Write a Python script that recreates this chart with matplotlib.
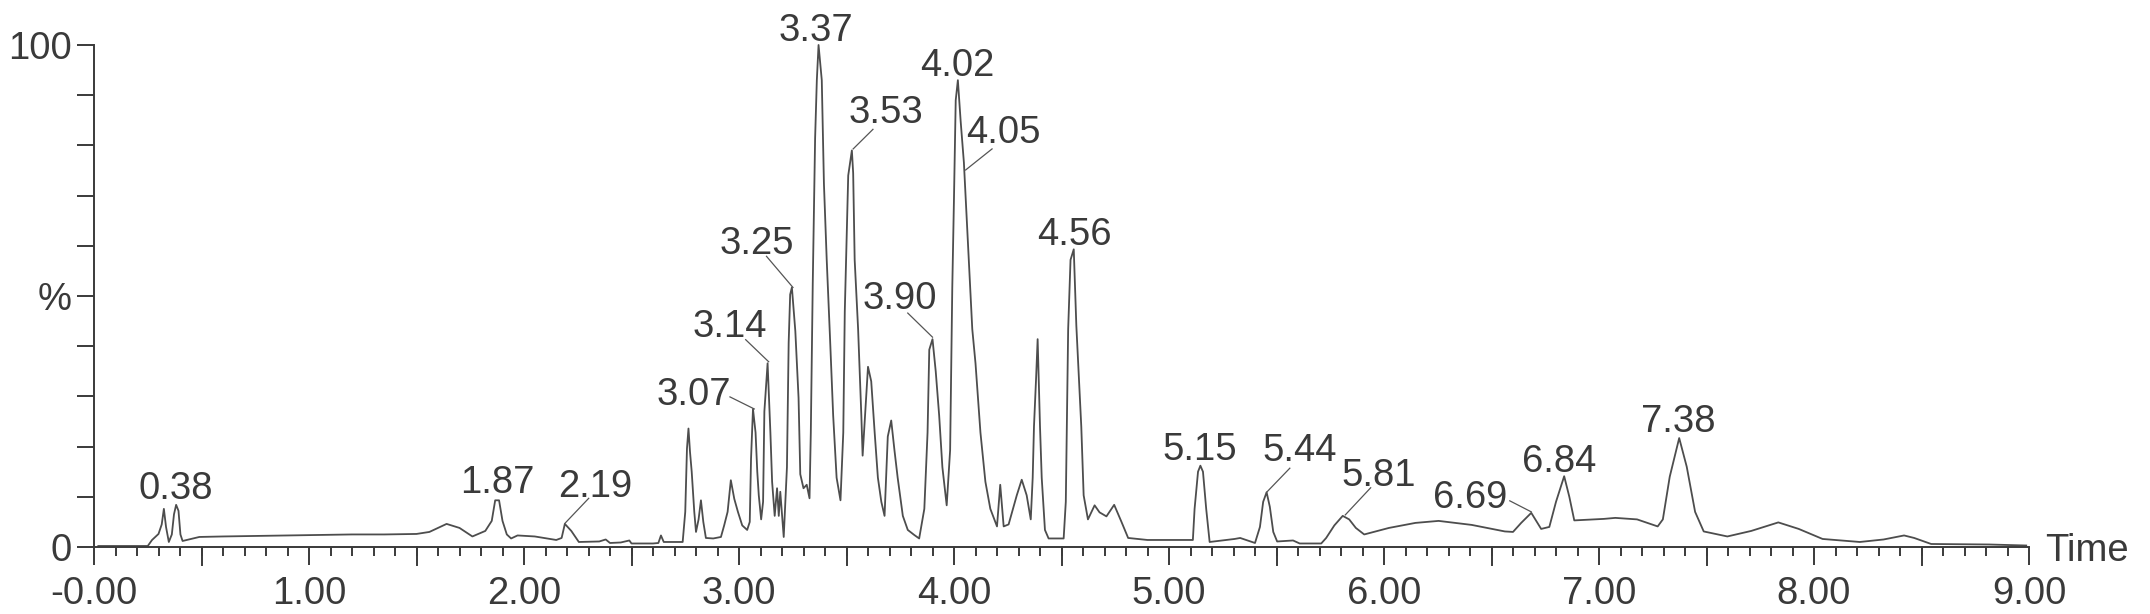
import matplotlib
matplotlib.use('Agg')
import matplotlib.pyplot as plt
from matplotlib.ticker import MultipleLocator

plt.rcParams['font.family'] = ['Liberation Sans', 'DejaVu Sans']

# chromatogram trace: retention time (min) and relative intensity (%)
time_min = [
    0.02, 0.25, 0.27, 0.30, 0.315, 0.325, 0.335, 0.348, 0.362, 0.372, 0.382, 0.393, 0.402, 0.412,
    0.45, 0.49, 0.60, 0.75, 0.90, 1.05, 1.20, 1.35, 1.50, 1.56, 1.64, 1.70, 1.76, 1.82, 1.85,
    1.866, 1.884, 1.90, 1.92, 1.94, 1.97, 2.05, 2.15, 2.175, 2.19, 2.22, 2.255, 2.35, 2.38, 2.40,
    2.45, 2.49, 2.50, 2.60, 2.625, 2.637, 2.65, 2.738,
    2.75, 2.758, 2.765, 2.772, 2.78, 2.792, 2.80, 2.812, 2.823, 2.834, 2.846, 2.88, 2.916, 2.931,
    2.947, 2.962, 2.978, 2.995, 3.015, 3.038, 3.05, 3.056, 3.065, 3.077, 3.085, 3.092, 3.103,
    3.112, 3.118, 3.133, 3.146, 3.154, 3.166, 3.177, 3.185, 3.192, 3.208, 3.223, 3.231, 3.238,
    3.246, 3.262, 3.277, 3.285, 3.300, 3.315, 3.328, 3.334, 3.343, 3.354, 3.362, 3.370, 3.385,
    3.395, 3.408, 3.423, 3.438, 3.454, 3.472, 3.485, 3.492, 3.508, 3.525, 3.531, 3.538, 3.554,
    3.569, 3.575,
    3.600, 3.615, 3.631, 3.646, 3.662, 3.677, 3.692, 3.708, 3.723, 3.738, 3.762, 3.785, 3.815,
    3.838, 3.862, 3.877, 3.885, 3.900, 3.915, 3.931, 3.946, 3.966, 3.982, 3.992, 4.000, 4.008,
    4.018, 4.031, 4.046, 4.054, 4.069, 4.085, 4.100, 4.123, 4.146, 4.169, 4.200, 4.215, 4.231,
    4.254, 4.292, 4.315, 4.338, 4.357, 4.366, 4.372, 4.382, 4.389, 4.400, 4.408, 4.423, 4.44,
    4.51, 4.52, 4.531, 4.542, 4.557, 4.569, 4.592, 4.603, 4.623, 4.654, 4.677, 4.709, 4.745,
    4.779, 4.81, 4.90, 5.00, 5.111, 5.119, 5.135, 5.146, 5.158, 5.173, 5.189, 5.305, 5.331,
    5.40, 5.423, 5.438, 5.454, 5.469, 5.485, 5.503, 5.577, 5.608, 5.708, 5.731, 5.769, 5.808,
    5.838, 5.869, 5.908, 6.023, 6.146, 6.254, 6.408, 6.562, 6.60, 6.638, 6.685, 6.731, 6.769,
    6.80, 6.838, 6.862, 6.885, 7.023, 7.076, 7.177, 7.273, 7.297, 7.329, 7.373, 7.408, 7.447,
    7.487, 7.597, 7.708, 7.834, 7.929, 8.04, 8.213, 8.324, 8.419, 8.466, 8.545, 8.814, 8.987,
]
intensity_pct = [
    0.2, 0.2, 1.4, 2.6, 4.5, 7.6, 4.0, 1.0, 2.5, 6.5, 8.4, 7.2, 2.5, 1.2,
    1.6, 2.0, 2.1, 2.2, 2.3, 2.4, 2.5, 2.5, 2.6, 3.0, 4.6, 3.8, 2.1, 3.2, 5.2,
    9.3, 9.3, 5.2, 2.5, 1.7, 2.3, 2.1, 1.4, 1.8, 4.6, 3.2, 1.0, 1.1, 1.5, 0.8,
    0.9, 1.3, 0.7, 0.7, 0.8, 2.3, 1.0, 1.0,
    7.0, 19.6, 23.6, 19.0, 15.0, 7.0, 3.0, 5.5, 9.3, 5.0, 1.8, 1.7, 2.0, 4.3,
    7.0, 13.3, 9.6, 7.0, 4.3, 3.4, 5.0, 17.6, 27.5, 22.8, 15.0, 10.3, 5.5,
    9.0, 27.0, 36.6, 22.8, 13.0, 6.2, 11.7, 6.2, 11.0, 2.0, 15.9, 40.7, 50.3,
    51.7, 43.0, 29.7, 14.5, 11.7, 12.4, 9.7, 22.8, 52.4, 81.4, 93.0, 100.0, 93.0,
    72.4, 57.2, 42.0, 26.2, 13.8, 9.3, 22.8, 46.9, 74.0, 79.0, 74.5, 57.2, 43.4,
    26.2, 18.2,
    35.9, 33.0, 22.8, 13.8, 9.0, 6.2, 22.0, 25.2, 19.3, 13.8, 6.2, 3.4, 2.4,
    1.7, 7.6, 22.8, 39.3, 41.4, 35.0, 26.2, 15.9, 8.3, 19.3, 51.7, 69.7, 89.0,
    93.0, 84.8, 76.6, 69.7, 57.2, 43.4, 36.6, 22.8, 13.0, 7.6, 4.1, 12.4, 4.1,
    4.5, 10.3, 13.4, 10.3, 5.5, 13.8, 24.0, 33.8, 41.4, 24.0, 13.8, 3.4, 1.7,
    1.7, 9.0, 43.4, 57.2, 59.3, 44.1, 24.0, 10.3, 5.5, 8.3, 6.9, 6.1, 8.4,
    5.0, 1.8, 1.4, 1.4, 1.4, 7.6, 15.0, 16.2, 15.0, 7.6, 1.0, 1.6, 1.8,
    0.8, 4.0, 9.0, 10.9, 8.0, 3.0, 1.1, 1.3, 0.7, 0.7, 1.8, 4.3, 6.2,
    5.5, 3.8, 2.5, 3.8, 4.8, 5.2, 4.4, 3.1, 3.0, 4.8, 6.8, 3.6, 4.0,
    9.0, 14.1, 10.0, 5.3, 5.6, 5.8, 5.5, 4.1, 5.5, 14.0, 21.7, 16.0, 7.0,
    3.1, 2.1, 3.2, 4.9, 3.6, 1.6, 1.0, 1.5, 2.3, 1.8, 0.6, 0.5, 0.3,
]

# peak labels (retention times) and where each label sits
peak_labels = ['0.38', '1.87', '2.19', '3.07', '3.14', '3.25', '3.37', '3.53', '3.90',
               '4.02', '4.05', '4.56', '5.15', '5.44', '5.81', '6.69', '6.84', '7.38']
label_x = [0.379, 1.876, 2.332, 2.789, 2.958, 3.085, 3.358, 3.685, 3.746,
           4.015, 4.231, 4.558, 5.142, 5.608, 5.977, 6.400, 6.813, 7.370]
label_base = [9.6, 10.7, 10.0, 28.3, 41.9, 58.3, 100.8, 84.4, 47.4,
              93.8, 80.5, 60.2, 17.4, 17.1, 12.1, 7.8, 14.9, 23.0]
# leader lines: label end -> peak apex
leaders = [
    ((2.301, 9.7), (2.190, 4.7)),
    ((2.958, 29.9), (3.071, 27.5)),
    ((3.031, 41.3), (3.138, 36.9)),
    ((3.128, 57.9), (3.251, 51.7)),
    ((3.623, 83.2), (3.531, 79.3)),
    ((3.785, 46.6), (3.900, 41.8)),
    ((4.177, 79.3), (4.054, 75.1)),
    ((5.562, 15.7), (5.454, 10.9)),
    ((5.938, 11.8), (5.820, 6.4)),
    ((6.585, 9.2), (6.685, 7.0)),
]

x_ticks = [0, 1, 2, 3, 4, 5, 6, 7, 8, 9]
x_tick_labels = ['-0.00', '1.00', '2.00', '3.00', '4.00', '5.00', '6.00', '7.00', '8.00', '9.00']
y_ticks = [0, 10, 20, 30, 40, 50, 60, 70, 80, 90, 100]
y_tick_labels = ['0', '', '', '', '', '%', '', '', '', '', '100']

ink = '#3a3a3a'
fs = 27.5

fig = plt.figure(figsize=(21.5, 6.14), dpi=100)
ax = fig.add_axes([94 / 2150, 67 / 614, (2029 - 94) / 2150, 502 / 614])
ax.plot(time_min, intensity_pct, color='#4d4d4d', lw=1.3, clip_on=False)

for txt, x, y in zip(peak_labels, label_x, label_base):
    ax.text(x, y, txt, ha='center', va='baseline', fontsize=fs, color=ink, clip_on=False)
for (x1, y1), (x2, y2) in leaders:
    ax.plot([x1, x2], [y1, y2], color='#555555', lw=0.9, clip_on=False)

ax.set_xlim(0, 9)
ax.set_ylim(0, 100)
for s in ['top', 'right']:
    ax.spines[s].set_visible(False)
for s in ['left', 'bottom']:
    ax.spines[s].set_color(ink)
    ax.spines[s].set_linewidth(1.4)

ax.set_xticks(x_ticks)
ax.set_xticklabels(x_tick_labels)
ax.xaxis.set_minor_locator(MultipleLocator(0.1))
ax.set_yticks(y_ticks)
ax.set_yticklabels(y_tick_labels)
ax.tick_params(axis='x', which='major', length=13, width=1.4, color=ink, labelsize=fs,
               labelcolor=ink, pad=8)
ax.tick_params(axis='x', which='minor', length=6.5, width=1.4, color=ink)
ax.tick_params(axis='y', which='major', length=12.2, width=1.4, color=ink, labelsize=fs,
               labelcolor=ink, pad=4)
# half-minute ticks are drawn long as well
for t in [0.5, 1.5, 2.5, 3.5, 4.5, 5.5, 6.5, 7.5, 8.5]:
    ax.plot([t, t], [0, -3.6], color=ink, lw=1.4, clip_on=False)

ax.text(9.074, -2.7, 'Time', ha='left', va='baseline', fontsize=fs, color=ink, clip_on=False)

fig.savefig('out.png', dpi=100, facecolor='white')
